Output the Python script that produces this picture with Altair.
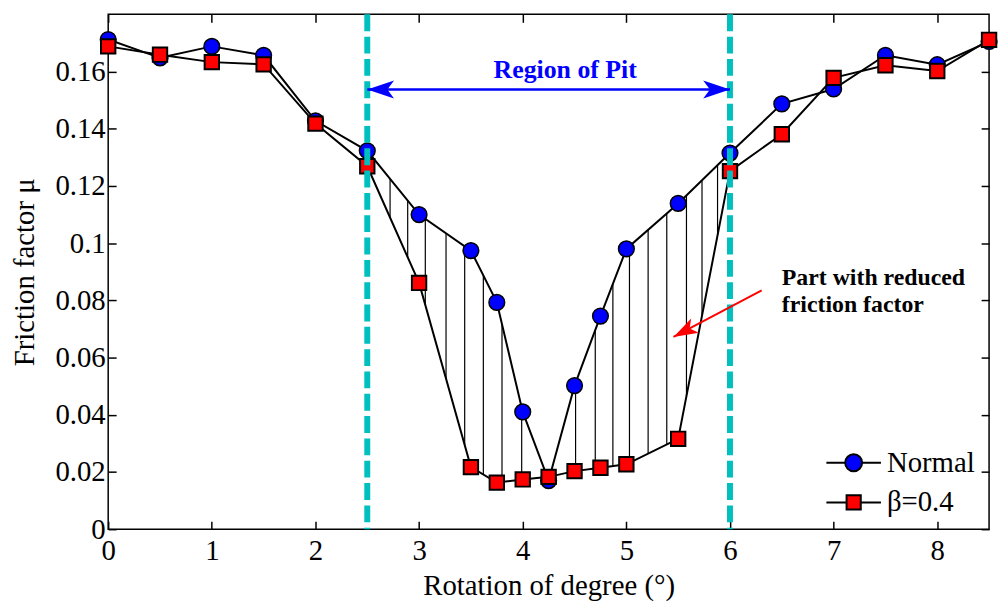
import altair as alt
import numpy as np
import pandas as pd

# ---------------- data ----------------
rotation = [0, 0.5, 1, 1.5, 2, 2.5, 3, 3.5, 3.75, 4, 4.25, 4.5, 4.75, 5, 5.5, 6, 6.5, 7, 7.5, 8, 8.5]
mu_normal = [0.1712, 0.1648, 0.1688, 0.1657, 0.1428, 0.1323, 0.1100, 0.0974, 0.0793, 0.0410, 0.0170,
             0.0502, 0.0745, 0.0980, 0.1139, 0.1315, 0.1487, 0.1539, 0.1657, 0.1624, 0.1705]
mu_beta = [0.1688, 0.1659, 0.1633, 0.1625, 0.1418, 0.1269, 0.0861, 0.0217, 0.0163, 0.0174, 0.0183,
           0.0203, 0.0215, 0.0227, 0.0316, 0.1252, 0.1381, 0.1578, 0.1622, 0.1602, 0.1711]
series_names = ["Normal", "β=0.4"]
series_colors = ["#0000FF", "#FF0000"]

x_ticks = [0, 1, 2, 3, 4, 5, 6, 7, 8]
y_ticks = [0, 0.02, 0.04, 0.06, 0.08, 0.1, 0.12, 0.14, 0.16]

pit_edges = [2.5, 6.0]
hatch_x = [2.72, 2.89, 3.06, 3.26, 3.44, 3.62, 3.80, 3.99,
           4.51, 4.70, 4.87, 5.03, 5.21, 5.39, 5.58, 5.73, 5.88]

pit_label = "Region of Pit"
pit_label_pos = [4.41, 0.1578]
pit_arrow_y = 0.1537
note_label = "Part with reduced\nfriction factor"
note_pos = [6.5, 0.0853]
note_arrow_tail = [6.306, 0.0835]
note_arrow_tip = [5.455, 0.0672]

# ---------------- styling ----------------
FONT = "Liberation Serif"
W, H = 888, 519
xs = alt.Scale(domain=[0, 8.5], nice=False, zero=False)
ys = alt.Scale(domain=[0, 0.18], nice=False, zero=False)

ARROW = "M0,0L2,-0.67L1.5,0L2,0.67Z"
LEG_CIRCLE = ("M-1,0L-0.31,0M0.31,0A0.31,0.31,0,1,1,-0.31,0A0.31,0.31,0,1,1,0.31,0Z"
              "M0.31,0L1,0")
LEG_SQUARE = ("M-1,0L-0.26,0M-0.26,-0.26L0.26,-0.26L0.26,0.26L-0.26,0.26Z"
              "M0.26,0L1,0")

tick_common = dict(domain=False, grid=False, tickSize=8, tickWidth=1.5,
                   tickColor="black", offset=-8)

ax_bottom = alt.Axis(orient="bottom", values=x_ticks, format="d", title="Rotation of degree (°)",
                     labelPadding=8, labelFont=FONT, labelFontSize=29, labelColor="black",
                     labelFlush=False, labelOverlap=False,
                     titleFont=FONT, titleFontSize=29, titleFontWeight="normal",
                     titleColor="black", titlePadding=6, **tick_common)
ax_left = alt.Axis(orient="left", values=y_ticks, format="~g", title="Friction factor μ",
                   labelPadding=3, labelFont=FONT, labelFontSize=29, labelColor="black",
                   labelOverlap=False,
                   titleFont=FONT, titleFontSize=29, titleFontWeight="normal",
                   titleColor="black", titlePadding=16, **tick_common)
ax_top = alt.Axis(orient="top", values=x_ticks, labels=False, title=None, **tick_common)
ax_right = alt.Axis(orient="right", values=y_ticks, labels=False, title=None, **tick_common)


def X(field="x", axis=None):
    return alt.X(f"{field}:Q", scale=xs, axis=axis)


def Y(field="y", axis=None):
    return alt.Y(f"{field}:Q", scale=ys, axis=axis)


df_n = pd.DataFrame({"x": rotation, "y": mu_normal})
df_b = pd.DataFrame({"x": rotation, "y": mu_beta})
hatch = pd.DataFrame({"x": hatch_x,
                      "y": np.interp(hatch_x, rotation, mu_normal),
                      "y2": np.interp(hatch_x, rotation, mu_beta)})

hatch_layer = alt.Chart(hatch).mark_rule(color="black", strokeWidth=1.2).encode(
    x=X(), y=Y(), y2="y2:Q")

line_n = alt.Chart(df_n).mark_line(color="black", strokeWidth=2).encode(
    x=X(axis=ax_bottom), y=Y(axis=ax_left))
line_b = alt.Chart(df_b).mark_line(color="black", strokeWidth=2).encode(
    x=X(axis=ax_top), y=Y(axis=ax_right))

pts_n = alt.Chart(df_n).mark_point(shape="circle", filled=True, fill=series_colors[0],
                                   stroke="black", strokeWidth=1.5, size=250, opacity=1).encode(
    x=X(), y=Y())
pts_b = alt.Chart(df_b).mark_point(shape="square", filled=True, fill=series_colors[1],
                                   stroke="black", strokeWidth=2, size=210, opacity=1).encode(
    x=X(), y=Y())

cyan = alt.Chart(pd.DataFrame({"x": pit_edges})).mark_rule(
    color="#00BFBF", strokeWidth=6, strokeDash=[17, 5.5]).encode(x=X())

pit_arrow = alt.Chart(pd.DataFrame({"x": [pit_edges[0]], "x2": [pit_edges[1]], "y": [pit_arrow_y]})
                      ).mark_rule(color="#0000FF", strokeWidth=2.5).encode(x=X(), x2="x2:Q", y=Y())
pit_heads = alt.Chart(pd.DataFrame({"x": pit_edges, "y": [pit_arrow_y] * 2, "ang": [0, 180]})
                      ).mark_point(shape=ARROW, filled=True, fill="#0000FF", strokeWidth=0,
                                   size=729, opacity=1).encode(
    x=X(), y=Y(), angle=alt.Angle("ang:Q", scale=None))
pit_text = alt.Chart(pd.DataFrame({"x": [pit_label_pos[0]], "y": [pit_label_pos[1]], "t": [pit_label]})
                     ).mark_text(font=FONT, fontSize=26, fontWeight="bold", color="#0000FF",
                                 align="center", baseline="alphabetic").encode(
    x=X(), y=Y(), text="t:N")

note_text = alt.Chart(pd.DataFrame({"x": [note_pos[0]], "y": [note_pos[1]], "t": [note_label]})
                      ).mark_text(font=FONT, fontSize=24, fontWeight="bold", color="black",
                                  align="left", baseline="alphabetic", lineBreak="\n",
                                  lineHeight=27).encode(x=X(), y=Y(), text="t:N")

dxp = (note_arrow_tip[0] - note_arrow_tail[0]) * W / 8.5
dyp = -(note_arrow_tip[1] - note_arrow_tail[1]) * H / 0.18
red_ang = (float(np.degrees(np.arctan2(dyp, dxp))) - 180.0) % 360.0

red_arrow = alt.Chart(pd.DataFrame({"x": [note_arrow_tail[0]], "y": [note_arrow_tail[1]],
                                    "x2": [note_arrow_tip[0]], "y2": [note_arrow_tip[1]]})
                      ).mark_rule(color="#FF0000", strokeWidth=2).encode(
    x=X(), y=Y(), x2="x2:Q", y2="y2:Q")
red_head = alt.Chart(pd.DataFrame({"x": [note_arrow_tip[0]], "y": [note_arrow_tip[1]], "ang": [red_ang]})
                     ).mark_point(shape=ARROW, filled=True, fill="#FF0000", strokeWidth=0,
                                  size=600, opacity=1).encode(
    x=X(), y=Y(), angle=alt.Angle("ang:Q", scale=None))

leg_df = pd.DataFrame({"x": rotation[:2], "y": mu_normal[:2], "s": series_names})
legend = alt.Legend(title=None, orient="none", legendX=723, legendY=433,
                    symbolSize=3025, symbolStrokeColor="black", symbolStrokeWidth=2,
                    symbolOpacity=1, clipHeight=38, rowPadding=2, labelOffset=5,
                    labelFont=FONT, labelFontSize=29, labelColor="black")
leg_layer = alt.Chart(leg_df).transform_filter("datum.x < -100").mark_point(
    filled=True, stroke="black", strokeWidth=2, size=3025, opacity=1).encode(
    x=X(), y=Y(),
    fill=alt.Fill("s:N", scale=alt.Scale(domain=series_names, range=series_colors), legend=legend),
    stroke=alt.Stroke("s:N", scale=alt.Scale(domain=series_names, range=["black", "black"]),
                      legend=legend),
    shape=alt.Shape("s:N", scale=alt.Scale(domain=series_names, range=[LEG_CIRCLE, LEG_SQUARE]),
                    legend=legend))

chart = alt.layer(
    hatch_layer, line_n, line_b, pts_n, pts_b, cyan, pit_arrow, pit_heads, pit_text,
    note_text, red_arrow, red_head, leg_layer
).resolve_axis(x="independent", y="independent").properties(
    width=W, height=H,
    autosize=alt.AutoSizeParams(type="none"),
    padding={"left": 101, "top": 4, "right": 9, "bottom": 74},
    background="white",
).configure_view(stroke="black", strokeWidth=1.5)

chart.save("out.html", embed_options={"renderer": "svg", "actions": False})
